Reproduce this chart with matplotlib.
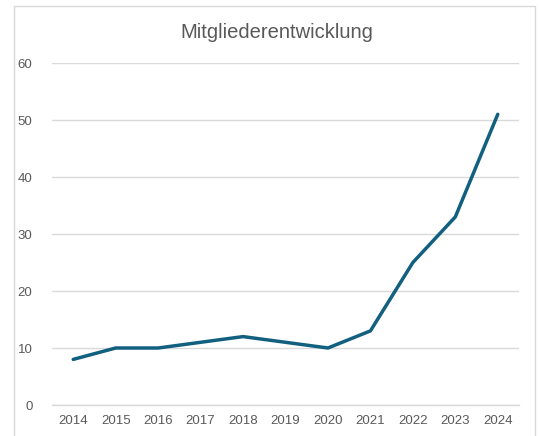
import matplotlib.pyplot as plt
from matplotlib.patches import Rectangle

plt.rcParams["font.family"] = ["Liberation Sans", "DejaVu Sans"]

years = [2014, 2015, 2016, 2017, 2018, 2019, 2020, 2021, 2022, 2023, 2024]
members = [8, 10, 10, 11, 12, 11, 10, 13, 25, 33, 51]
y_ticks = [0, 10, 20, 30, 40, 50, 60]

TEXT = "#595959"
GRID = "#D9D9D9"
LINE = "#12607F"

fig = plt.figure(figsize=(5.4, 4.36), dpi=100)
ax = fig.add_axes([52 / 540, 1 - 405 / 436, 467 / 540, 342 / 436])

# chart frame (Excel style light border)
fig.patches.append(
    Rectangle((14 / 540, -0.05), 521 / 540, 1.05 - 6 / 436,
              transform=fig.transFigure, fill=False,
              edgecolor="#D9D9D9", linewidth=1)
)

x = list(range(len(years)))
ax.plot(x, members, color=LINE, linewidth=2.5, solid_capstyle="round",
        solid_joinstyle="round", zorder=3)

ax.set_xlim(-0.5, len(years) - 0.5)
ax.set_ylim(0, 60)
ax.set_xticks(x)
ax.set_xticklabels([str(y) for y in years])
ax.set_yticks(y_ticks)
ax.grid(axis="y", color=GRID, linewidth=1)
ax.set_axisbelow(True)

for s in ["top", "right", "left"]:
    ax.spines[s].set_visible(False)
ax.spines["bottom"].set_color(GRID)
ax.spines["bottom"].set_linewidth(1)
ax.tick_params(axis="both", length=0, labelsize=9.5, colors=TEXT)
ax.tick_params(axis="x", pad=7)
ax.tick_params(axis="y", pad=14)

fig.text(277 / 540, 1 - 32 / 436, "Mitgliederentwicklung", ha="center",
         va="center", fontsize=14.5, color=TEXT)

fig.savefig("out.png", dpi=100)
